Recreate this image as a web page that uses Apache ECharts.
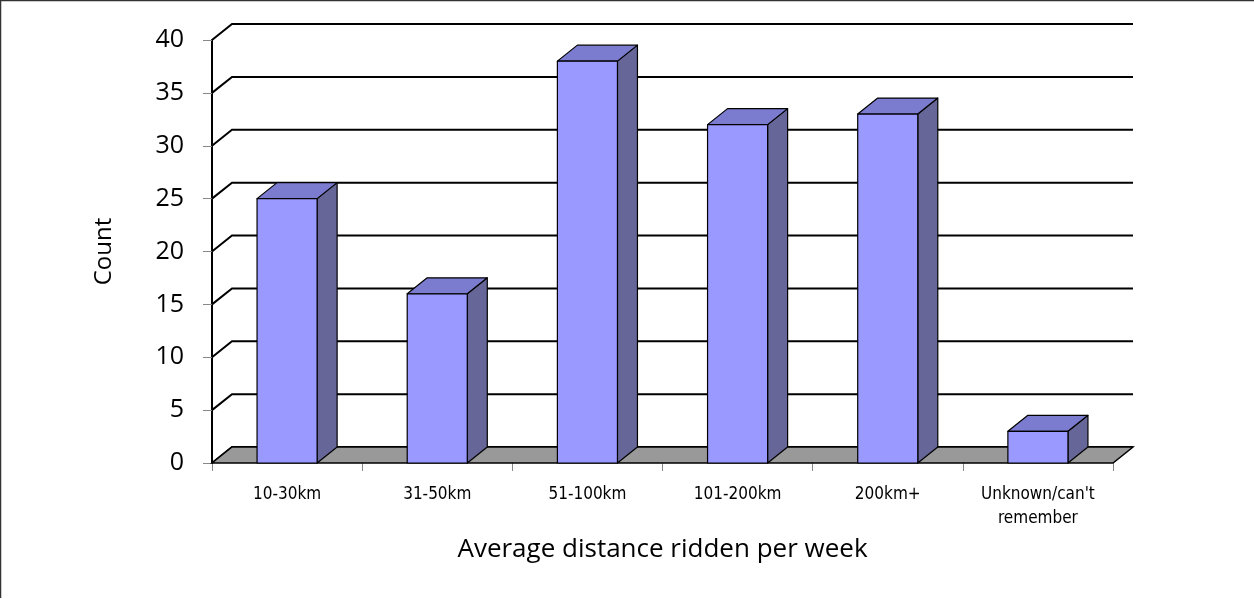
<!DOCTYPE html>
<html lang="en" style="height: 100%">
<head>
  <meta charset="utf-8">
  <title>Average distance ridden per week</title>
</head>
<body style="height: 100%; margin: 0">
  <div id="container" style="width: 1254px; height: 599px"></div>

  <script type="text/javascript" src="https://cdn.jsdelivr.net/npm/echarts@6.0.0/dist/echarts.min.js"></script>

  <script type="text/javascript">
    // data
    var categories = ['10-30km', '31-50km', '51-100km', '101-200km', '200km+', "Unknown/can't\nremember"];
    var counts = [25, 16, 38, 32, 33, 3];
    var yTicks = [0, 5, 10, 15, 20, 25, 30, 35, 40];

    // 3D depth offset of the back wall
    var DX = 20, DY = -16;

    var dom = document.getElementById('container');
    var myChart = echarts.init(dom, null, { renderer: 'canvas' });

    function wallLine(params, api) {
      var cs = params.coordSys;
      var y = api.coord([0, api.value(0)])[1];
      var x0 = cs.x, x1 = cs.x + cs.width;
      return {
        type: 'polyline',
        shape: { points: [[x0, y], [x0 + DX, y + DY], [x1 + DX, y + DY]] },
        style: { stroke: '#000', lineWidth: 2, fill: null }
      };
    }

    function floor(params, api) {
      var cs = params.coordSys;
      var y = api.coord([0, 0])[1];
      var x0 = cs.x, x1 = cs.x + cs.width;
      return {
        type: 'polygon',
        shape: { points: [[x0, y], [x0 + DX, y + DY], [x1 + DX, y + DY], [x1, y]] },
        style: { fill: '#999999', stroke: '#000', lineWidth: 1.5 }
      };
    }

    function bar3d(params, api) {
      var c = api.value(0);
      var top = api.coord([c, api.value(1)]);
      var base = api.coord([c, 0]);
      var w = api.size([1, 0])[0] * 0.4;
      var l = top[0] - w / 2, r = top[0] + w / 2;
      var t = top[1], b = base[1];
      var line = { stroke: '#000', lineWidth: 1.2, lineJoin: 'round' };
      return {
        type: 'group',
        children: [
          {
            type: 'polygon',
            shape: { points: [[r, t], [r + DX, t + DY], [r + DX, b + DY], [r, b]] },
            style: Object.assign({ fill: '#666699' }, line)
          },
          {
            type: 'polygon',
            shape: { points: [[l, t], [l + DX, t + DY], [r + DX, t + DY], [r, t]] },
            style: Object.assign({ fill: '#7b7bd0' }, line)
          },
          {
            type: 'rect',
            shape: { x: l, y: t, width: w, height: b - t },
            style: Object.assign({ fill: '#9999ff' }, line)
          }
        ]
      };
    }

    var option = {
      animation: false,
      backgroundColor: '#fff',
      textStyle: { fontFamily: 'Open Sans' },
      graphic: [
        {
          type: 'polyline',
          shape: { points: [[0.5, 598], [0.5, 0.5], [1254, 0.5]] },
          style: { stroke: '#333', lineWidth: 1.5, fill: null }
        }
      ],
      grid: { left: 212, right: 141, top: 40, bottom: 136 },
      xAxis: {
        type: 'category',
        data: categories,
        name: 'Average distance ridden per week',
        nameLocation: 'middle',
        nameGap: 74,
        nameTextStyle: { fontSize: 26, color: '#000', fontFamily: 'Open Sans' },
        axisLine: { show: false },
        axisTick: { show: true, length: 8, lineStyle: { color: '#888', width: 1 } },
        axisLabel: {
          color: '#000',
          fontSize: 17,
          fontFamily: "'DejaVu Sans Condensed', 'Liberation Sans'",
          margin: 20,
          lineHeight: 24
        },
        splitLine: { show: false }
      },
      yAxis: {
        type: 'value',
        min: 0,
        max: 40,
        interval: 5,
        name: 'Count',
        nameLocation: 'middle',
        nameGap: 96,
        nameTextStyle: { fontSize: 24, color: '#000', fontFamily: 'Open Sans' },
        axisLine: { show: true, lineStyle: { color: '#000', width: 2 } },
        axisTick: { show: true, length: 9, lineStyle: { color: '#888', width: 1 } },
        axisLabel: { color: '#000', fontSize: 25, fontFamily: 'Open Sans', margin: 28 },
        splitLine: { show: false }
      },
      series: [
        {
          type: 'custom',
          z: 1,
          renderItem: wallLine,
          data: yTicks.map(function (v) { return [v]; }),
          silent: true
        },
        {
          type: 'custom',
          z: 2,
          renderItem: floor,
          data: [[0]],
          silent: true
        },
        {
          type: 'custom',
          z: 3,
          renderItem: bar3d,
          encode: { x: 0, y: 1 },
          data: counts.map(function (v, i) { return [i, v]; })
        }
      ]
    };

    myChart.setOption(option);

    window.addEventListener('resize', function () {
      myChart.resize();
    });
  </script>
</body>
</html>
